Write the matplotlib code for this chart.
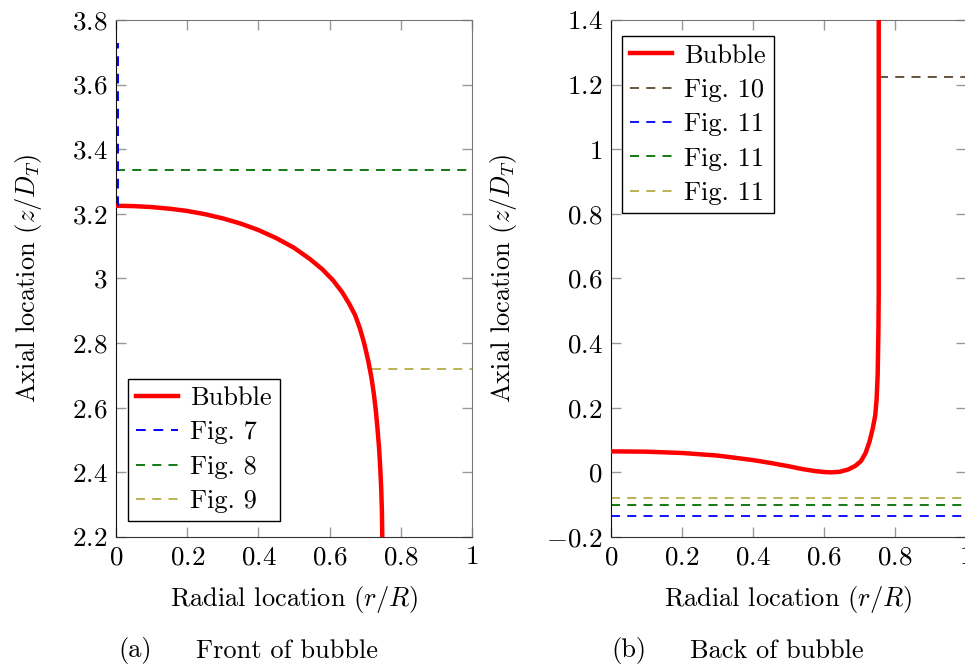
import matplotlib
matplotlib.use("Agg")
import matplotlib.pyplot as plt
from matplotlib.ticker import FuncFormatter

plt.rcParams["font.family"] = ["cmr10", "DejaVu Serif"]
plt.rcParams["mathtext.fontset"] = "cm"
plt.rcParams["axes.unicode_minus"] = False
plt.rcParams["font.size"] = 19

# front of bubble (a)
front_r = [0.0, 0.05, 0.10, 0.15, 0.20, 0.25, 0.30, 0.35, 0.40, 0.45, 0.50, 0.545,
           0.58, 0.61, 0.635, 0.655, 0.672, 0.685, 0.697, 0.708, 0.717, 0.724, 0.730,
           0.735, 0.739, 0.742, 0.745, 0.747, 0.748]
front_z = [3.225, 3.224, 3.221, 3.216, 3.209, 3.199, 3.186, 3.170, 3.150, 3.125, 3.095, 3.060,
           3.028, 2.994, 2.958, 2.922, 2.886, 2.846, 2.800, 2.748, 2.697, 2.646, 2.590,
           2.530, 2.475, 2.420, 2.350, 2.280, 2.200]
fig7_r = [0.006, 0.006]
fig7_z = [3.225, 3.728]
fig8_r = [0.0, 1.0]
fig8_z = [3.336, 3.336]
fig9_r = [0.718, 1.0]
fig9_z = [2.720, 2.720]

# back of bubble (b)
back_r = [0.0, 0.1, 0.2, 0.3, 0.4, 0.45, 0.5, 0.54, 0.575, 0.60, 0.62, 0.645, 0.668,
          0.688, 0.704, 0.717, 0.728, 0.737, 0.744, 0.748, 0.751, 0.753, 0.754, 0.754]
back_z = [0.065, 0.064, 0.060, 0.052, 0.038, 0.029, 0.019, 0.010, 0.004, 0.001, 0.000,
          0.002, 0.009, 0.020, 0.035, 0.060, 0.095, 0.135, 0.175, 0.225, 0.300, 0.430,
          0.550, 1.400]
fig10_r = [0.754, 1.0]
fig10_z = [1.225, 1.225]
fig11_levels = [-0.135, -0.101, -0.078]

red = "#ff0000"
blue = "#0000ff"
green = "#007000"
olive = "#b5ad45"
brown = "#5a4630"
dash = (5, 4)


def fmt(v, pos):
    s = "%g" % round(v, 3)
    return "$" + s + "$"


def style_axes(ax, ylo, yhi):
    ax.set_xlim(0, 1)
    ax.set_ylim(ylo, yhi)
    ax.set_xticks([0, 0.2, 0.4, 0.6, 0.8, 1])
    ax.set_yticks([round(ylo + 0.2 * i, 2) for i in range(9)])
    ax.xaxis.set_major_formatter(FuncFormatter(fmt))
    ax.yaxis.set_major_formatter(FuncFormatter(fmt))
    ax.tick_params(direction="in", length=7, width=1, color="#999999",
                   top=True, right=True, labelsize=19.5, pad=6)
    ax.spines["left"].set_color("#111111")
    ax.spines["bottom"].set_color("#333333")
    ax.spines["top"].set_color("#777777")
    ax.spines["right"].set_color("#777777")
    ax.set_xlabel("Radial location ($r/R$)", fontsize=19, labelpad=11)
    ax.set_ylabel("Axial location ($z/D_T$)", fontsize=19, labelpad=20)


def add_legend(ax, loc, anchor):
    leg = ax.legend(loc=loc, bbox_to_anchor=anchor, borderaxespad=0,
                    fancybox=False, framealpha=1, edgecolor="black", fontsize=19,
                    handlelength=1.6, labelspacing=0.4, borderpad=0.3, handletextpad=0.45)
    leg.get_frame().set_linewidth(1.0)
    return leg


fig = plt.figure(figsize=(9.65, 6.66), dpi=100)

ax1 = fig.add_axes([0.1202, 0.1937, 0.3689, 0.7763])
ax1.plot(front_r, front_z, color=red, lw=3.2, label="Bubble", zorder=3,
         solid_joinstyle="round")
ax1.plot(fig7_r, fig7_z, color=blue, lw=1.4, dashes=dash, label="Fig. 7", zorder=4,
         clip_on=False)
ax1.plot(fig8_r, fig8_z, color=green, lw=1.3, dashes=dash, label="Fig. 8")
ax1.plot(fig9_r, fig9_z, color=olive, lw=1.3, dashes=dash, label="Fig. 9")
style_axes(ax1, 2.2, 3.8)
add_legend(ax1, "lower left", (0.034, 0.031))

ax2 = fig.add_axes([0.6332, 0.1937, 0.3679, 0.7763])
ax2.plot(back_r, back_z, color=red, lw=3.2, label="Bubble", zorder=3,
         solid_joinstyle="round")
ax2.plot(fig10_r, fig10_z, color=brown, lw=1.3, dashes=dash, label="Fig. 10")
for lev, col in zip(fig11_levels, [blue, green, olive]):
    ax2.plot([0, 1], [lev, lev], color=col, lw=1.3, dashes=dash, label="Fig. 11")
style_axes(ax2, -0.2, 1.4)
add_legend(ax2, "upper left", (0.031, 0.969))

fig.text(118 / 965, 1 - 651 / 666, "(a)", fontsize=19, va="center", ha="left")
fig.text(196 / 965, 1 - 651 / 666, "Front of bubble", fontsize=19, va="center", ha="left")
fig.text(611 / 965, 1 - 651 / 666, "(b)", fontsize=19, va="center", ha="left")
fig.text(690 / 965, 1 - 651 / 666, "Back of bubble", fontsize=19, va="center", ha="left")

fig.savefig("out.png", dpi=100)
